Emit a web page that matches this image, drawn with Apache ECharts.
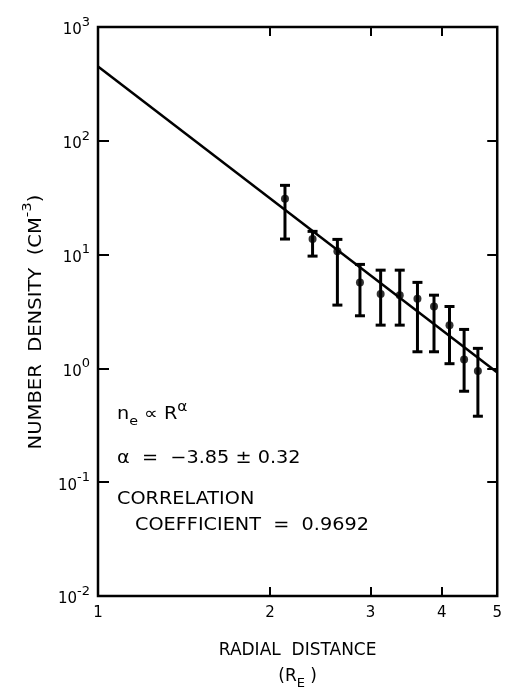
<!DOCTYPE html>
<html>
<head>
<meta charset="utf-8">
<script src="https://cdn.jsdelivr.net/npm/echarts@6/dist/echarts.min.js"></script>
<style>
html, body { margin: 0; padding: 0; background: #fff; }
#chart { width: 505px; height: 695px; }
</style>
</head>
<body>
<div id="chart"></div>
<script>
// radial distance (R_E)
var radius = [2.125, 2.375, 2.625, 2.875, 3.125, 3.375, 3.625, 3.875, 4.125, 4.375, 4.625];
// number density (cm^-3): value, top and bottom of the error bar
var density = [31.0, 13.7, 10.7, 5.7, 4.5, 4.4, 4.1, 3.5, 2.4, 1.2, 0.95];
var densityHigh = [40.6, 16.0, 13.6, 8.2, 7.3, 7.3, 5.7, 4.4, 3.5, 2.2, 1.5];
var densityLow = [13.7, 9.7, 3.6, 2.9, 2.4, 2.4, 1.4, 1.4, 1.1, 0.63, 0.38];
// fitted power law, end points
var fitR = [1, 5];
var fitN = [450, 0.92];
// tick labels
var xTicks = [1, 2, 3, 4, 5];
var xInnerTicks = [2, 3, 4];

var font = 'DejaVu Sans';
var chart = echarts.init(document.getElementById('chart'));

var points = radius.map(function (r, i) { return [r, density[i]]; });
var bars = radius.map(function (r, i) { return [r, densityHigh[i], densityLow[i]]; });
var fit = fitR.map(function (r, i) { return [r, fitN[i]]; });

var supRich = {
  b: { fontFamily: font, fontSize: 15, color: '#000', lineHeight: 22, verticalAlign: 'bottom' },
  s: { fontFamily: font, fontSize: 13, color: '#000', lineHeight: 22, verticalAlign: 'top' }
};

function note(x, y, text) {
  return {
    type: 'text', x: x, y: y, scaleX: 1.1,
    style: { text: text, font: '17.5px "DejaVu Sans"', fill: '#000', verticalAlign: 'middle' }
  };
}

chart.setOption({
  animation: false,
  grid: {
    left: 98, right: 7, top: 27, bottom: 92,
    show: true, borderColor: '#000', borderWidth: 2.5
  },
  xAxis: [{
    type: 'log', logBase: 10, min: 1, max: 5,
    axisLine: { show: false },
    splitLine: { show: false },
    minorTick: { show: false },
    axisTick: { inside: true, length: 9, customValues: xInnerTicks, lineStyle: { color: '#000', width: 2 } },
    axisLabel: { customValues: xTicks, margin: 10, fontFamily: font, fontSize: 15, color: '#000', showMinLabel: true, showMaxLabel: true },
    name: '{a|RADIAL  DISTANCE}\n{c|(R}{e|E}{c| )}',
    nameLocation: 'middle', nameGap: 46,
    nameTextStyle: {
      rich: {
        a: { fontFamily: font, fontSize: 17, color: '#000', lineHeight: 26, verticalAlign: 'top' },
        c: { fontFamily: font, fontSize: 17, color: '#000', lineHeight: 22, verticalAlign: 'top' },
        e: { fontFamily: font, fontSize: 13, color: '#000', lineHeight: 22, verticalAlign: 'bottom' }
      }
    }
  }, {
    type: 'log', logBase: 10, min: 1, max: 5, position: 'top',
    axisLine: { show: false },
    splitLine: { show: false },
    axisTick: { inside: true, length: 9, customValues: xInnerTicks, lineStyle: { color: '#000', width: 2 } },
    axisLabel: { show: false }
  }],
  yAxis: [{
    type: 'log', logBase: 10, min: 0.01, max: 1000,
    axisLine: { show: false },
    splitLine: { show: false },
    axisTick: { inside: true, length: 11, lineStyle: { color: '#000', width: 2 } },
    axisLabel: {
      margin: 8,
      formatter: function (v) {
        return '{b|10}{s|' + Math.round(Math.log10(v)) + '}';
      },
      rich: supRich
    }
  }, {
    type: 'log', logBase: 10, min: 0.01, max: 1000, position: 'right',
    axisLine: { show: false },
    splitLine: { show: false },
    axisTick: { inside: true, length: 10, lineStyle: { color: '#000', width: 2 } },
    axisLabel: { show: false }
  }],
  series: [{
    type: 'line',
    data: fit,
    showSymbol: false,
    lineStyle: { color: '#000', width: 2.5 },
    z: 3
  }, {
    type: 'custom',
    data: bars,
    encode: { x: 0, y: [1, 2] },
    renderItem: function (params, api) {
      var top = api.coord([api.value(0), api.value(1)]);
      var bot = api.coord([api.value(0), api.value(2)]);
      var w = 5;
      var st = { stroke: '#000', lineWidth: 3 };
      return {
        type: 'group',
        children: [
          { type: 'line', shape: { x1: top[0], y1: top[1], x2: bot[0], y2: bot[1] }, style: st },
          { type: 'line', shape: { x1: top[0] - w, y1: top[1], x2: top[0] + w, y2: top[1] }, style: st },
          { type: 'line', shape: { x1: bot[0] - w, y1: bot[1], x2: bot[0] + w, y2: bot[1] }, style: st }
        ]
      };
    },
    z: 4
  }, {
    type: 'scatter',
    data: points,
    symbol: 'circle',
    symbolSize: 8,
    itemStyle: { color: '#000' },
    z: 5
  }],
  graphic: [{
    // y axis title, drawn as text so it can be stretched like the lettering
    type: 'text', x: 33, y: 322, rotation: Math.PI / 2, scaleX: 1.15,
    style: {
      text: '{a|NUMBER  DENSITY  (CM}{s|-3}{a|)}',
      align: 'center', verticalAlign: 'middle',
      rich: {
        a: { fontFamily: font, fontSize: 17, fill: '#000', lineHeight: 24, verticalAlign: 'bottom' },
        s: { fontFamily: font, fontSize: 13, fill: '#000', lineHeight: 24, verticalAlign: 'top' }
      }
    }
  }, {
    type: 'text', x: 117, y: 414, scaleX: 1.1,
    style: {
      text: '{t|n}{e|e}{t| ∝ R}{p|α}',
      verticalAlign: 'middle',
      rich: {
        t: { fontFamily: font, fontSize: 17.5, fill: '#000', lineHeight: 28, verticalAlign: 'middle' },
        e: { fontFamily: font, fontSize: 13, fill: '#000', lineHeight: 28, verticalAlign: 'bottom' },
        p: { fontFamily: font, fontSize: 14, fill: '#000', lineHeight: 28, verticalAlign: 'top' }
      }
    }
  },
  note(117, 458, 'α  =  −3.85 ± 0.32'),
  note(117, 499, 'CORRELATION'),
  note(135, 525, 'COEFFICIENT  =  0.9692')
  ]
});
</script>
</body>
</html>
